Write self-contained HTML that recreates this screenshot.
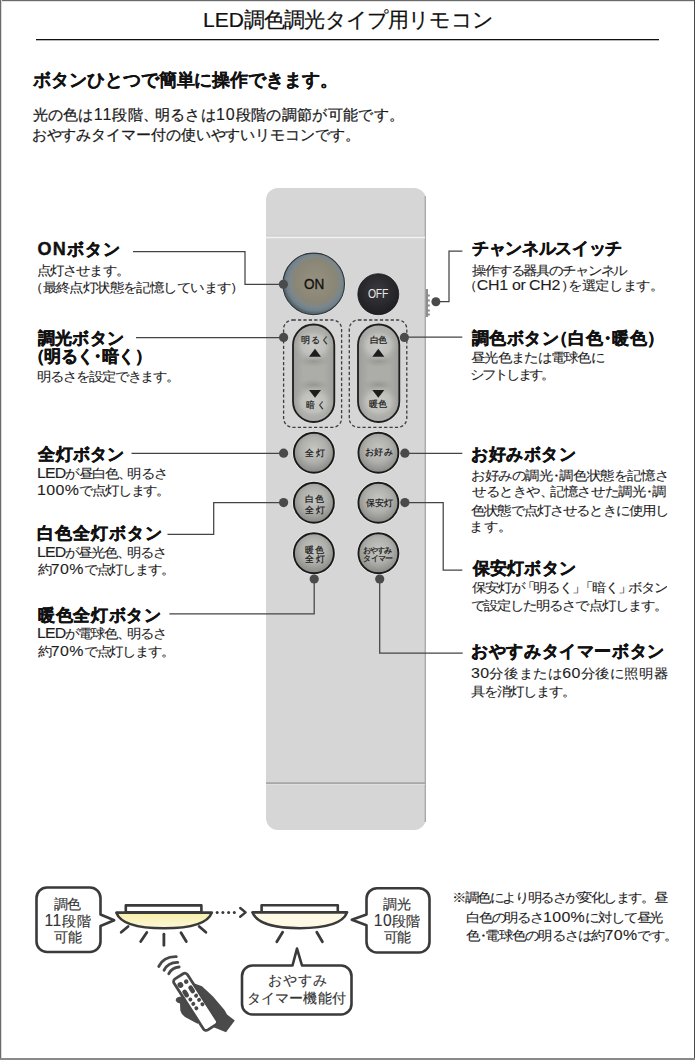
<!DOCTYPE html>
<html><head><meta charset="utf-8">
<style>
html,body{margin:0;padding:0;background:#fff;}
body{width:695px;height:1060px;position:relative;overflow:hidden;font-family:"Liberation Sans",sans-serif;color:#1c1c1c;}
.t{position:absolute;white-space:nowrap;line-height:20px;}
.title{font-size:21px;color:#111;-webkit-text-stroke:0.2px #111;}
.h18{font-weight:bold;font-size:18px;color:#111;-webkit-text-stroke:0.1px #111;}
.h{font-weight:bold;font-size:17px;color:#111;-webkit-text-stroke:0.4px #111;}
.b{font-size:14px;color:#1e1e1e;-webkit-text-stroke:0.1px #1e1e1e;transform:scaleY(0.9);transform-origin:0 0;}
.b15{font-size:15px;color:#1a1a1a;-webkit-text-stroke:0.25px #1a1a1a;}
.d{font-size:1.07em;letter-spacing:0.14em;-webkit-text-stroke:0.1px;}
.lat{letter-spacing:0;}
.b .d{font-size:1.14em;letter-spacing:0.02em;}
.b .lt{font-size:1.14em;}
.bb .d{font-size:1.12em;letter-spacing:0.03em;}
.b15 .d{letter-spacing:0.06em;}
.lt{font-size:1.06em;}
.on .lt,.off .lt{font-size:1em;}
.cm{margin-right:-0.25em;}
.lp{margin-left:-0.5em;}
.rp{margin-right:-0.45em;}
.md{margin:0 -0.25em;}
.lb{margin-left:-0.2em;}
.rb{margin-right:-0.2em;}
svg{position:absolute;left:0;top:0;}
.bt{font-size:9px;color:#161616;-webkit-text-stroke:0.2px #161616;}
.bt9{font-size:8px;color:#161616;-webkit-text-stroke:0.2px #161616;}
.on{font-size:15px;color:#111;-webkit-text-stroke:0.35px #111;transform:scaleX(0.9);transform-origin:0 0;}
.off{font-size:13px;color:#e8e8e8;transform:scaleX(0.8);transform-origin:0 0;}
.bb{font-size:14px;color:#333;-webkit-text-stroke:0.15px #333;}
</style></head><body>
<svg width="695" height="1060" viewBox="0 0 695 1060">
  <defs>
    <radialGradient id="gBtn" cx="50%" cy="42%" r="58%">
      <stop offset="0" stop-color="#c6c6c2"/>
      <stop offset="0.55" stop-color="#afafab"/>
      <stop offset="1" stop-color="#878783"/>
    </radialGradient>
    <radialGradient id="gOn" cx="53%" cy="46%" r="52%">
      <stop offset="0" stop-color="#96917f"/>
      <stop offset="0.66" stop-color="#8a8676"/>
      <stop offset="0.8" stop-color="#7d878a"/>
      <stop offset="0.92" stop-color="#6e808a"/>
      <stop offset="1" stop-color="#57636a"/>
    </radialGradient>
    <radialGradient id="gOff" cx="48%" cy="40%" r="60%">
      <stop offset="0" stop-color="#3a3a3e"/>
      <stop offset="1" stop-color="#1f1f23"/>
    </radialGradient>
    <linearGradient id="gPill" x1="0" y1="0" x2="1" y2="0">
      <stop offset="0" stop-color="#9d9e99"/>
      <stop offset="0.25" stop-color="#acada8"/>
      <stop offset="0.75" stop-color="#acada8"/>
      <stop offset="1" stop-color="#9d9e99"/>
    </linearGradient>
    <radialGradient id="gHi" cx="50%" cy="50%" r="50%">
      <stop offset="0" stop-color="#cbccc7" stop-opacity="1"/>
      <stop offset="0.6" stop-color="#c2c3be" stop-opacity="0.85"/>
      <stop offset="1" stop-color="#acada8" stop-opacity="0"/>
    </radialGradient>
    <radialGradient id="gSh" cx="50%" cy="50%" r="50%">
      <stop offset="0" stop-color="#8f908b" stop-opacity="0.8"/>
      <stop offset="1" stop-color="#9a9b96" stop-opacity="0"/>
    </radialGradient>
    <clipPath id="cpL"><rect x="293" y="324.5" width="41.3" height="97.5" rx="20.6"/></clipPath>
    <clipPath id="cpR"><rect x="358" y="324.5" width="41.3" height="97.5" rx="20.6"/></clipPath>
    <linearGradient id="gLamp1" x1="0" y1="0" x2="0" y2="1">
      <stop offset="0" stop-color="#f8efa6"/>
      <stop offset="1" stop-color="#fcf7da"/>
    </linearGradient>
    <linearGradient id="gBody" x1="0" y1="0" x2="1" y2="0">
      <stop offset="0" stop-color="#d2d2d2"/>
      <stop offset="0.1" stop-color="#d7d7d7"/>
      <stop offset="0.9" stop-color="#d6d6d6"/>
      <stop offset="1" stop-color="#cfcfcf"/>
    </linearGradient>
  </defs>
  <!-- page border -->
  <rect x="0" y="0" width="695" height="1" fill="#6a6a6a"/>
  <rect x="0" y="1" width="695" height="1" fill="#e4e4e4"/>
  <rect x="0" y="0" width="1" height="1060" fill="#6a6a6a"/>
  <rect x="1" y="0" width="1" height="1060" fill="#dcdcdc"/>
  <rect x="694" y="0" width="1" height="1060" fill="#4a4a4a"/>
  <rect x="0" y="1058" width="695" height="2" fill="#8a8a8a"/>
  <!-- title rule -->
  <rect x="36" y="39" width="623" height="1.3" fill="#111"/>

  <!-- remote body -->
  <rect x="266" y="188" width="160" height="642" rx="12" ry="12" fill="#d6d6d6"/>
  <rect x="424.6" y="196" width="1.4" height="626" fill="#aaaaaa"/>
  <rect x="266" y="235.6" width="159" height="1" fill="#c6c6c6"/>
  <rect x="266" y="236.6" width="159" height="1.6" fill="#f2f2f2"/>
  <rect x="266" y="782.3" width="159" height="1.6" fill="#a2a2a2"/>
  <rect x="266" y="784" width="159" height="0.8" fill="#e2e2e2"/>
  <!-- channel switch -->
  <rect x="425.8" y="289" width="2.2" height="28" fill="#8e8e8e"/>
  <g fill="#8a8a8a">
    <rect x="427.4" y="294.5" width="2.4" height="2"/>
    <rect x="427.4" y="299.5" width="2.4" height="2"/>
    <rect x="427.4" y="304.5" width="2.4" height="2"/>
    <rect x="427.4" y="309.5" width="2.4" height="2"/>
    <rect x="427.4" y="313.5" width="2.4" height="2"/>
  </g>
  <!-- ON button -->
  <circle cx="313.7" cy="283.9" r="32" fill="#e6e6e6"/>
  <circle cx="313.7" cy="283.9" r="30.8" fill="url(#gOn)" stroke="#2e3438" stroke-width="1.1"/>
  <!-- OFF -->
  <circle cx="378.3" cy="294.2" r="21.3" fill="#ececec"/>
  <circle cx="378.3" cy="294.2" r="20.5" fill="url(#gOff)" stroke="#151518" stroke-width="0.8"/>

  <!-- dashed boxes -->
  <rect x="283.6" y="320" width="58" height="107.3" rx="9" fill="none" stroke="#3e3e3e" stroke-width="1.3" stroke-dasharray="3.2 2.2"/>
  <rect x="349.3" y="320" width="57.5" height="107.3" rx="9" fill="none" stroke="#3e3e3e" stroke-width="1.3" stroke-dasharray="3.2 2.2"/>
  <!-- pills -->
  <g>
    <rect x="293" y="324.5" width="41.3" height="97.5" rx="20.6" fill="url(#gPill)"/>
    <g clip-path="url(#cpL)">
      <ellipse cx="313.6" cy="361" rx="16" ry="6" fill="url(#gSh)"/>
      <ellipse cx="313.6" cy="385" rx="16" ry="6" fill="url(#gSh)"/>
      <ellipse cx="313.6" cy="345" rx="20" ry="17" fill="url(#gHi)"/>
      <ellipse cx="313.6" cy="402" rx="20" ry="17" fill="url(#gHi)"/>
    </g>
    <rect x="293" y="324.5" width="41.3" height="97.5" rx="20.6" fill="none" stroke="#1e1e1e" stroke-width="1.8"/>
  </g>
  <g>
    <rect x="358" y="324.5" width="41.3" height="97.5" rx="20.6" fill="url(#gPill)"/>
    <g clip-path="url(#cpR)">
      <ellipse cx="378.6" cy="361" rx="16" ry="6" fill="url(#gSh)"/>
      <ellipse cx="378.6" cy="385" rx="16" ry="6" fill="url(#gSh)"/>
      <ellipse cx="378.6" cy="345" rx="20" ry="17" fill="url(#gHi)"/>
      <ellipse cx="378.6" cy="402" rx="20" ry="17" fill="url(#gHi)"/>
    </g>
    <rect x="358" y="324.5" width="41.3" height="97.5" rx="20.6" fill="none" stroke="#1e1e1e" stroke-width="1.8"/>
  </g>
  <g fill="#1c1c1c">
    <polygon points="309,356.7 321,356.7 315,348.7"/>
    <polygon points="309,389.9 321,389.9 315,397.8"/>
    <polygon points="372.3,356.7 384.3,356.7 378.3,348.7"/>
    <polygon points="372.3,389.9 384.3,389.9 378.3,397.8"/>
  </g>

  <!-- round buttons -->
  <g fill="#eeeeee">
    <circle cx="313.9" cy="452.8" r="21.6"/>
    <circle cx="378.4" cy="452.8" r="21.6"/>
    <circle cx="313.9" cy="502.7" r="21.6"/>
    <circle cx="378.4" cy="502.7" r="21.6"/>
    <circle cx="313.9" cy="553.2" r="21.6"/>
    <circle cx="378.4" cy="553.2" r="21.6"/>
  </g>
  <g fill="url(#gBtn)" stroke="#1a1a1a" stroke-width="1.9">
    <circle cx="313.9" cy="452.8" r="20"/>
    <circle cx="378.4" cy="452.8" r="20"/>
    <circle cx="313.9" cy="502.7" r="20"/>
    <circle cx="378.4" cy="502.7" r="20"/>
    <circle cx="313.9" cy="553.2" r="20"/>
    <circle cx="378.4" cy="553.2" r="20"/>
  </g>

  <!-- leader lines -->
  <g fill="none" stroke="#444" stroke-width="1.25">
    <polyline points="133,251.5 245,251.5 245,284.3 283,284.3"/>
    <polyline points="136,337.6 283.6,337.6"/>
    <polyline points="131.5,453.3 283.6,453.3"/>
    <polyline points="167.5,534.3 213.7,534.3 213.7,502.7 283.6,502.7"/>
    <polyline points="169.4,613.8 314.2,613.8 314.2,579"/>
    <polyline points="462.4,251.2 449,251.2 449,301.6 436,301.6"/>
    <polyline points="404.4,337.2 462.3,337.2"/>
    <polyline points="404.9,453.4 462.3,453.4"/>
    <polyline points="404.9,502.5 443.2,502.5 443.2,570.2 462.3,570.2"/>
    <polyline points="379.7,579 379.7,653.2 462.7,653.2"/>
  </g>
  <g fill="#4a4a4a">
    <circle cx="283.4" cy="284.3" r="4.6"/>
    <circle cx="283.6" cy="337.4" r="4.6"/>
    <circle cx="404.4" cy="337.4" r="4.6"/>
    <circle cx="283.6" cy="453.2" r="4.6"/>
    <circle cx="404.9" cy="453.2" r="4.6"/>
    <circle cx="283.6" cy="502.6" r="4.6"/>
    <circle cx="404.9" cy="502.6" r="4.6"/>
    <circle cx="314.2" cy="579" r="4.6"/>
    <circle cx="379.7" cy="579" r="4.6"/>
    <circle cx="435.9" cy="301.7" r="4.5"/>
  </g>

  <!-- bottom illustration: bubbles -->
  <g fill="#fff" stroke="#3a3a3a" stroke-width="2.6" stroke-linejoin="round">
    <path d="M47,887.5 H90 A10.5,10.5 0 0 1 100.5,898 V914.5 L114.2,920.3 L100.5,926 V941.5 A10.5,10.5 0 0 1 90,952 H47 A10.5,10.5 0 0 1 36.5,941.5 V898 A10.5,10.5 0 0 1 47,887.5 Z"/>
    <path d="M377,888.2 H419 A10.5,10.5 0 0 1 429.5,898.7 V942 A10.5,10.5 0 0 1 419,952.5 H377 A10.5,10.5 0 0 1 366.5,942 V925.3 L351.8,919.8 L366.5,914.5 V898.7 A10.5,10.5 0 0 1 377,888.2 Z"/>
    <path d="M252.5,965.5 H292.5 L297,948.6 L302,965.5 H341 A10.5,10.5 0 0 1 351.5,976 V1004 A10.5,10.5 0 0 1 341,1014.5 H252.5 A10.5,10.5 0 0 1 242,1004 V976 A10.5,10.5 0 0 1 252.5,965.5 Z"/>
  </g>
  <!-- lamp 1 -->
  <g stroke="#3a3a3a" stroke-width="2.6" stroke-linecap="round" stroke-linejoin="round">
    <rect x="125.8" y="905.4" width="75.6" height="7" fill="#fff"/>
    <path d="M116.3,912.6 H211.8 Q206,928.3 164,928.3 Q122,928.3 116.3,912.6 Z" fill="url(#gLamp1)"/>
    <line x1="121.2" y1="932.3" x2="128.1" y2="926.5" stroke-width="2.8"/>
    <line x1="140.7" y1="941.5" x2="146.8" y2="932.5" stroke-width="2.8"/>
    <line x1="163.9" y1="934.2" x2="163.9" y2="945.3" stroke-width="2.8"/>
    <line x1="181" y1="932.8" x2="186.3" y2="941.5" stroke-width="2.8"/>
    <line x1="199.2" y1="926.5" x2="205.9" y2="932.3" stroke-width="2.8"/>
  </g>
  <!-- lamp 2 -->
  <g stroke="#3a3a3a" stroke-width="2.6" stroke-linecap="round" stroke-linejoin="round">
    <rect x="261.6" y="905.2" width="76.2" height="7.1" fill="#fff"/>
    <path d="M252.4,912.4 H347.1 Q341,928.2 299.7,928.2 Q258.5,928.2 252.4,912.4 Z" fill="#fdf9e4"/>
    <line x1="276.8" y1="941.8" x2="282.6" y2="932.3" stroke-width="2.8"/>
    <line x1="316.8" y1="932.3" x2="322.4" y2="941.8" stroke-width="2.8"/>
  </g>
  <!-- dotted arrow -->
  <g fill="#3a3a3a">
    <circle cx="217.2" cy="912.4" r="1.5"/>
    <circle cx="222.9" cy="912.4" r="1.5"/>
    <circle cx="228.6" cy="912.4" r="1.5"/>
    <circle cx="234.3" cy="912.4" r="1.5"/>
  </g>
  <polyline points="240.2,908 245.6,912.4 240.2,916.8" fill="none" stroke="#3a3a3a" stroke-width="2.4" stroke-linecap="round" stroke-linejoin="round"/>

  <!-- hand-held remote -->
  <g fill="#4a4a4a">
    <polygon points="194.5,983.5 202,986.3 213,996.5 224.5,1010 227,1014.5 234.8,1020.5 226,1032.3 213,1027 199,1002"/>
    <path d="M188,996 L179.5,996.8 Q175.3,997.8 175.8,1000.8 Q176.5,1003 180,1003.5 L180.3,1010.5 Q181.5,1015 185,1017 L197.5,1023.8 L203,1019 Z"/>
  </g>
  <g transform="translate(195.5,1001.8) rotate(-32.8)">
    <rect x="-8" y="-30.3" width="16" height="60.6" rx="3.2" fill="#fff" stroke="#484848" stroke-width="2.8"/>
    <g fill="#484848">
      <circle cx="-3.6" cy="-22.3" r="2.9"/>
      <circle cx="3.1" cy="-22" r="2.3"/>
      <rect x="-6.1" y="-16.6" width="4.6" height="8.6" rx="2.3"/>
      <rect x="1.2" y="-16.8" width="4.6" height="8.6" rx="2.3"/>
      <circle cx="-3.1" cy="-4.7" r="2"/><circle cx="3.8" cy="-4.8" r="2"/>
      <circle cx="-3.0" cy="0.6" r="2"/><circle cx="4.1" cy="0.3" r="2"/>
      <circle cx="-2.8" cy="5.9" r="2"/><circle cx="4.5" cy="5.8" r="2"/>
    </g>
  </g>
  <g fill="none" stroke="#484848" stroke-width="2.9" stroke-linecap="round">
    <path d="M158.8,966.4 Q163.5,956.3 176.3,956.6"/>
    <path d="M164.1,970.2 Q168,962.2 177.8,962.4"/>
    <path d="M168.8,973.7 Q172,967.6 179.1,967"/>
  </g>
</svg>

<div class="t title" style="left:202.96px;top:9.64px;letter-spacing:-0.823px"><span class="lat">LED</span>調色調光タイプ用リモコン</div>
<div class="t h18" style="left:33.00px;top:69.74px;letter-spacing:-0.056px">ボタンひとつで簡単に操作できます。</div>
<div class="t b15" style="left:32.50px;top:103.78px;letter-spacing:0.324px">光の色は<span class="d">11</span>段階<span class="cm">、</span>明るさは<span class="d">10</span>段階の調節が可能です。</div>
<div class="t b15" style="left:31.60px;top:125.40px;letter-spacing:-0.086px">おやすみタイマー付の使いやすいリモコンです。</div>
<div class="t h" style="left:37.62px;top:239.26px;letter-spacing:1.170px"><span class="lt">ON</span>ボタン</div>
<div class="t b" style="left:37.10px;top:260.56px;letter-spacing:-0.900px">点灯させます。</div>
<div class="t b" style="left:36.20px;top:277.50px;letter-spacing:-0.588px"><span class="lp">（</span>最終点灯状態を記憶しています<span class="rp">）</span></div>
<div class="t h" style="left:37.50px;top:329.28px;letter-spacing:0.450px">調光ボタン</div>
<div class="t h" style="left:36.20px;top:346.90px;letter-spacing:-0.514px"><span class="lp">（</span>明るく<span class="md">・</span>暗く<span class="rp">）</span></div>
<div class="t b" style="left:37.10px;top:366.94px;letter-spacing:-1.080px">明るさを設定できます。</div>
<div class="t h" style="left:38.38px;top:445.14px;letter-spacing:0.270px">全灯ボタン</div>
<div class="t b" style="left:37.10px;top:463.63px;letter-spacing:-0.900px"><span class="lt">LED</span>が昼白色<span class="cm">、</span>明るさ</div>
<div class="t b" style="left:37.10px;top:480.64px;letter-spacing:-1.152px"><span class="d">100%</span>で点灯します。</div>
<div class="t h" style="left:37.10px;top:524.26px;letter-spacing:0.990px">白色全灯ボタン</div>
<div class="t b" style="left:37.10px;top:543.12px;letter-spacing:-0.972px"><span class="lt">LED</span>が昼光色<span class="cm">、</span>明るさ</div>
<div class="t b" style="left:38.00px;top:560.22px;letter-spacing:-1.188px">約<span class="d">70%</span>で点灯します。</div>
<div class="t h" style="left:38.00px;top:605.88px;letter-spacing:0.690px">暖色全灯ボタン</div>
<div class="t b" style="left:37.10px;top:624.46px;letter-spacing:-0.972px"><span class="lt">LED</span>が電球色<span class="cm">、</span>明るさ</div>
<div class="t b" style="left:38.00px;top:641.56px;letter-spacing:-1.188px">約<span class="d">70%</span>で点灯します。</div>
<div class="t h" style="left:472.00px;top:239.24px;letter-spacing:-0.315px">チャンネルスイッチ</div>
<div class="t b" style="left:472.00px;top:260.80px;letter-spacing:-1.145px">操作する器具のチャンネル</div>
<div class="t b" style="left:470.20px;top:276.34px;letter-spacing:-0.340px"><span class="lp">（</span><span class="lt">CH</span><span class="d">1</span>&nbsp;<span class="lt">or</span>&nbsp;<span class="lt">CH</span><span class="d">2</span><span class="rp">）</span>を選定します。</div>
<div class="t h" style="left:471.76px;top:329.44px;letter-spacing:0.475px">調色ボタン<span class="lp">（</span>白色<span class="md">・</span>暖色<span class="rp">）</span></div>
<div class="t b" style="left:471.10px;top:348.10px;letter-spacing:-0.700px">昼光色または電球色に</div>
<div class="t b" style="left:470.20px;top:364.76px;letter-spacing:-2.160px">シフトします。</div>
<div class="t h" style="left:471.10px;top:444.54px;letter-spacing:0.540px">お好みボタン</div>
<div class="t b" style="left:471.10px;top:465.90px;letter-spacing:-0.399px">お好みの調光<span class="md">・</span>調色状態を記憶さ</div>
<div class="t b" style="left:472.00px;top:482.38px;letter-spacing:-0.386px">せるときや<span class="cm">、</span>記憶させた調光<span class="md">・</span>調</div>
<div class="t b" style="left:471.10px;top:500.52px;letter-spacing:-0.849px">色状態で点灯させるときに使用し</div>
<div class="t b" style="left:469.30px;top:516.60px;letter-spacing:0.500px">ます。</div>
<div class="t h" style="left:472.90px;top:559.10px;letter-spacing:0.180px">保安灯ボタン</div>
<div class="t b" style="left:472.00px;top:577.74px;letter-spacing:-1.152px">保安灯が<span class="lb">「</span>明るく<span class="rb">」</span><span class="lb">「</span>暗く<span class="rb">」</span>ボタン</div>
<div class="t b" style="left:471.10px;top:596.38px;letter-spacing:-0.951px">で設定した明るさで点灯します。</div>
<div class="t h" style="left:471.10px;top:642.30px;letter-spacing:0.612px">おやすみタイマーボタン</div>
<div class="t b" style="left:471.10px;top:663.74px;letter-spacing:0.566px"><span class="d">30</span>分後または<span class="d">60</span>分後に照明器</div>
<div class="t b" style="left:471.10px;top:682.02px;letter-spacing:-1.029px">具を消灯します。</div>
<div class="t b" style="left:452.06px;top:887.92px;letter-spacing:-1.406px">※調色により明るさが変化します。昼</div>
<div class="t b" style="left:465.96px;top:907.88px;letter-spacing:-1.152px">白色の明るさ<span class="d">100%</span>に対して昼光</div>
<div class="t b" style="left:465.96px;top:925.76px;letter-spacing:-0.765px">色<span class="md">・</span>電球色の明るさは約<span class="d">70%</span>です。</div>
<div class="t bt" style="left:301.16px;top:330.37px;letter-spacing:0.720px">明るく</div>
<div class="t bt" style="left:306.16px;top:394.66px;letter-spacing:1.440px">暗く</div>
<div class="t bt" style="left:370.08px;top:330.37px;letter-spacing:-1.260px">白色</div>
<div class="t bt" style="left:368.92px;top:394.21px;letter-spacing:0.180px">暖色</div>
<div class="t bt" style="left:305.42px;top:442.70px;letter-spacing:1.440px">全灯</div>
<div class="t bt" style="left:364.76px;top:442.25px;letter-spacing:0.630px">お好み</div>
<div class="t bt" style="left:305.42px;top:489.22px;letter-spacing:0.540px">白色</div>
<div class="t bt" style="left:305.42px;top:499.83px;letter-spacing:1.440px">全灯</div>
<div class="t bt" style="left:365.66px;top:493.12px;letter-spacing:0.270px">保安灯</div>
<div class="t bt" style="left:305.42px;top:539.56px;letter-spacing:0.540px">暖色</div>
<div class="t bt" style="left:305.42px;top:548.93px;letter-spacing:1.440px">全灯</div>
<div class="t bt9" style="left:363.36px;top:540.54px;letter-spacing:-1.080px">おやすみ</div>
<div class="t bt9" style="left:363.36px;top:549.28px;letter-spacing:-0.780px">タイマー</div>
<div class="t on" style="left:303.58px;top:273.88px;letter-spacing:0.000px"><span class="lt">ON</span></div>
<div class="t off" style="left:368.00px;top:284.43px;letter-spacing:-0.270px"><span class="lt">OFF</span></div>
<div class="t bb" style="left:53.58px;top:893.52px;letter-spacing:-0.540px">調色</div>
<div class="t bb" style="left:44.52px;top:911.08px;letter-spacing:1.380px"><span class="d">11</span>段階</div>
<div class="t bb" style="left:54.16px;top:926.86px;letter-spacing:0.000px">可能</div>
<div class="t bb" style="left:382.92px;top:893.52px;letter-spacing:0.180px">調光</div>
<div class="t bb" style="left:373.86px;top:911.08px;letter-spacing:-0.060px"><span class="d">10</span>段階</div>
<div class="t bb" style="left:384.00px;top:926.95px;letter-spacing:-0.540px">可能</div>
<div class="t bb" style="left:267.76px;top:970.23px;letter-spacing:0.960px">おやすみ</div>
<div class="t bb" style="left:246.54px;top:988.48px;letter-spacing:0.210px">タイマー機能付</div>
</body></html>
